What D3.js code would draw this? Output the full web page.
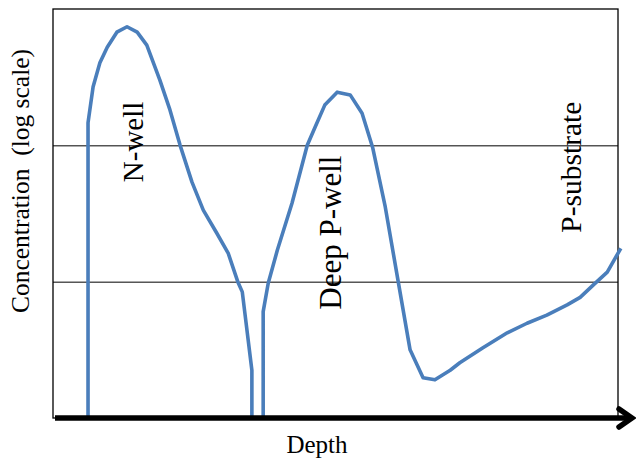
<!DOCTYPE html>
<html>
<head>
<meta charset="utf-8">
<script src="https://cdn.jsdelivr.net/npm/d3@7"></script>
<style>
  body { margin: 0; background: #fff; }
  text { font-family: "Liberation Serif", "Times New Roman", serif; fill: #000; white-space: pre; }
</style>
</head>
<body>
<div id="chart"></div>
<script>

// depth (0-100, arbitrary units) and log10 of concentration
var nWellDepth   = [6.2, 6.2, 7.1, 8.3, 9.6, 11.3, 13.1, 14.9, 16.6, 18.9, 20.7, 22.5, 24.6, 26.6, 29.0, 31.0, 32.7, 33.5, 35.2, 35.2]
var nWellLogConc = [14.0, 18.33, 18.86, 19.21, 19.44, 19.66, 19.74, 19.66, 19.47, 18.96, 18.52, 18.0, 17.46, 17.05, 16.71, 16.42, 16.0, 15.85, 14.7, 14.0]

var pDepth   = [37.2, 37.2, 38.1, 39.7, 42.3, 45.0, 46.4, 48.1, 50.3, 52.6, 54.7, 56.6, 58.8, 61.1, 63.2, 65.5, 67.6, 70.3, 72.0, 76.1, 80.4, 83.9, 87.4, 91.0, 93.3, 95.6, 98.1, 100.5]
var pLogConc = [14.0, 15.56, 15.98, 16.46, 17.15, 18.0, 18.27, 18.59, 18.78, 18.74, 18.47, 17.96, 17.1, 16.0, 15.0, 14.59, 14.56, 14.7, 14.81, 15.03, 15.25, 15.39, 15.51, 15.66, 15.77, 15.95, 16.14, 16.49]

var gridLevels = [1e16, 1e18]

var regionLabels = ["N-well", "Deep P-well", "P-substrate"]
var regionDepth  = [16.0, 51.0, 93.5]
var regionLog    = [18.05, 16.72, 17.68]
var regionSize   = [29, 31, 29.5]

var width  = 636,
    height = 462,
    margin = {top: 9, right: 18, bottom: 44, left: 53}

var svg = d3.select("#chart").append("svg")
  .attr("width", width)
  .attr("height", height)

var x = d3.scaleLinear().domain([0, 100]).range([margin.left, width - margin.right])
var y = d3.scaleLog().domain([1e14, 1e20]).range([height - margin.bottom, margin.top])

// frame
svg.append("rect")
  .attr("x", x(0))
  .attr("y", y(1e20))
  .attr("width", x(100) - x(0))
  .attr("height", y(1e14) - y(1e20))
  .attr("fill", "none")
  .attr("stroke", "#000")
  .attr("stroke-width", 1.3)

// gridlines
svg.append("g")
  .attr("transform", "translate(" + x(0) + ",0)")
  .call(d3.axisLeft(y).tickValues(gridLevels).tickFormat("").tickSize(-(x(100) - x(0))))
  .call(function(g) { g.select(".domain").remove() })
  .selectAll("line").attr("stroke", "#000").attr("stroke-width", 1)

var line = d3.line()
  .x(function(d) { return x(d[0]) })
  .y(function(d) { return y(Math.pow(10, d[1])) })

svg.append("path")
  .datum(d3.zip(nWellDepth, nWellLogConc))
  .attr("d", line)
  .attr("fill", "none")
  .attr("stroke", "#4a7ebb")
  .attr("stroke-width", 3.6)
  .attr("stroke-linejoin", "round")

svg.append("path")
  .datum(d3.zip(pDepth, pLogConc))
  .attr("d", line)
  .attr("fill", "none")
  .attr("stroke", "#4a7ebb")
  .attr("stroke-width", 3.6)
  .attr("stroke-linejoin", "round")

// thick depth axis with arrow
var axisY = y(1e14)
svg.append("line")
  .attr("x1", x(0) + 2).attr("x2", 632)
  .attr("y1", axisY).attr("y2", axisY)
  .attr("stroke", "#000").attr("stroke-width", 5.5)

svg.append("path")
  .attr("d", "M619," + (axisY - 9) + "L632," + axisY + "L619," + (axisY + 9))
  .attr("fill", "none")
  .attr("stroke", "#000")
  .attr("stroke-width", 5.5)
  .attr("stroke-linecap", "round")
  .attr("stroke-linejoin", "miter")

// region labels
svg.selectAll(".region").data(regionLabels).enter()
  .append("text")
  .attr("class", "region")
  .attr("text-anchor", "middle")
  .attr("font-size", function(d, i) { return regionSize[i] })
  .attr("transform", function(d, i) {
    return "translate(" + x(regionDepth[i]) + "," + y(Math.pow(10, regionLog[i])) + ") rotate(-90)"
  })
  .text(function(d) { return d })

// axis titles
svg.append("text")
  .attr("text-anchor", "middle")
  .attr("font-size", 25)
  .attr("x", 317)
  .attr("y", 453)
  .text("Depth")

svg.append("text")
  .attr("text-anchor", "middle")
  .attr("font-size", 25.5)
  .attr("transform", "translate(29,181) rotate(-90)")
  .text("Concentration  (log scale)")

</script>
</body>
</html>
